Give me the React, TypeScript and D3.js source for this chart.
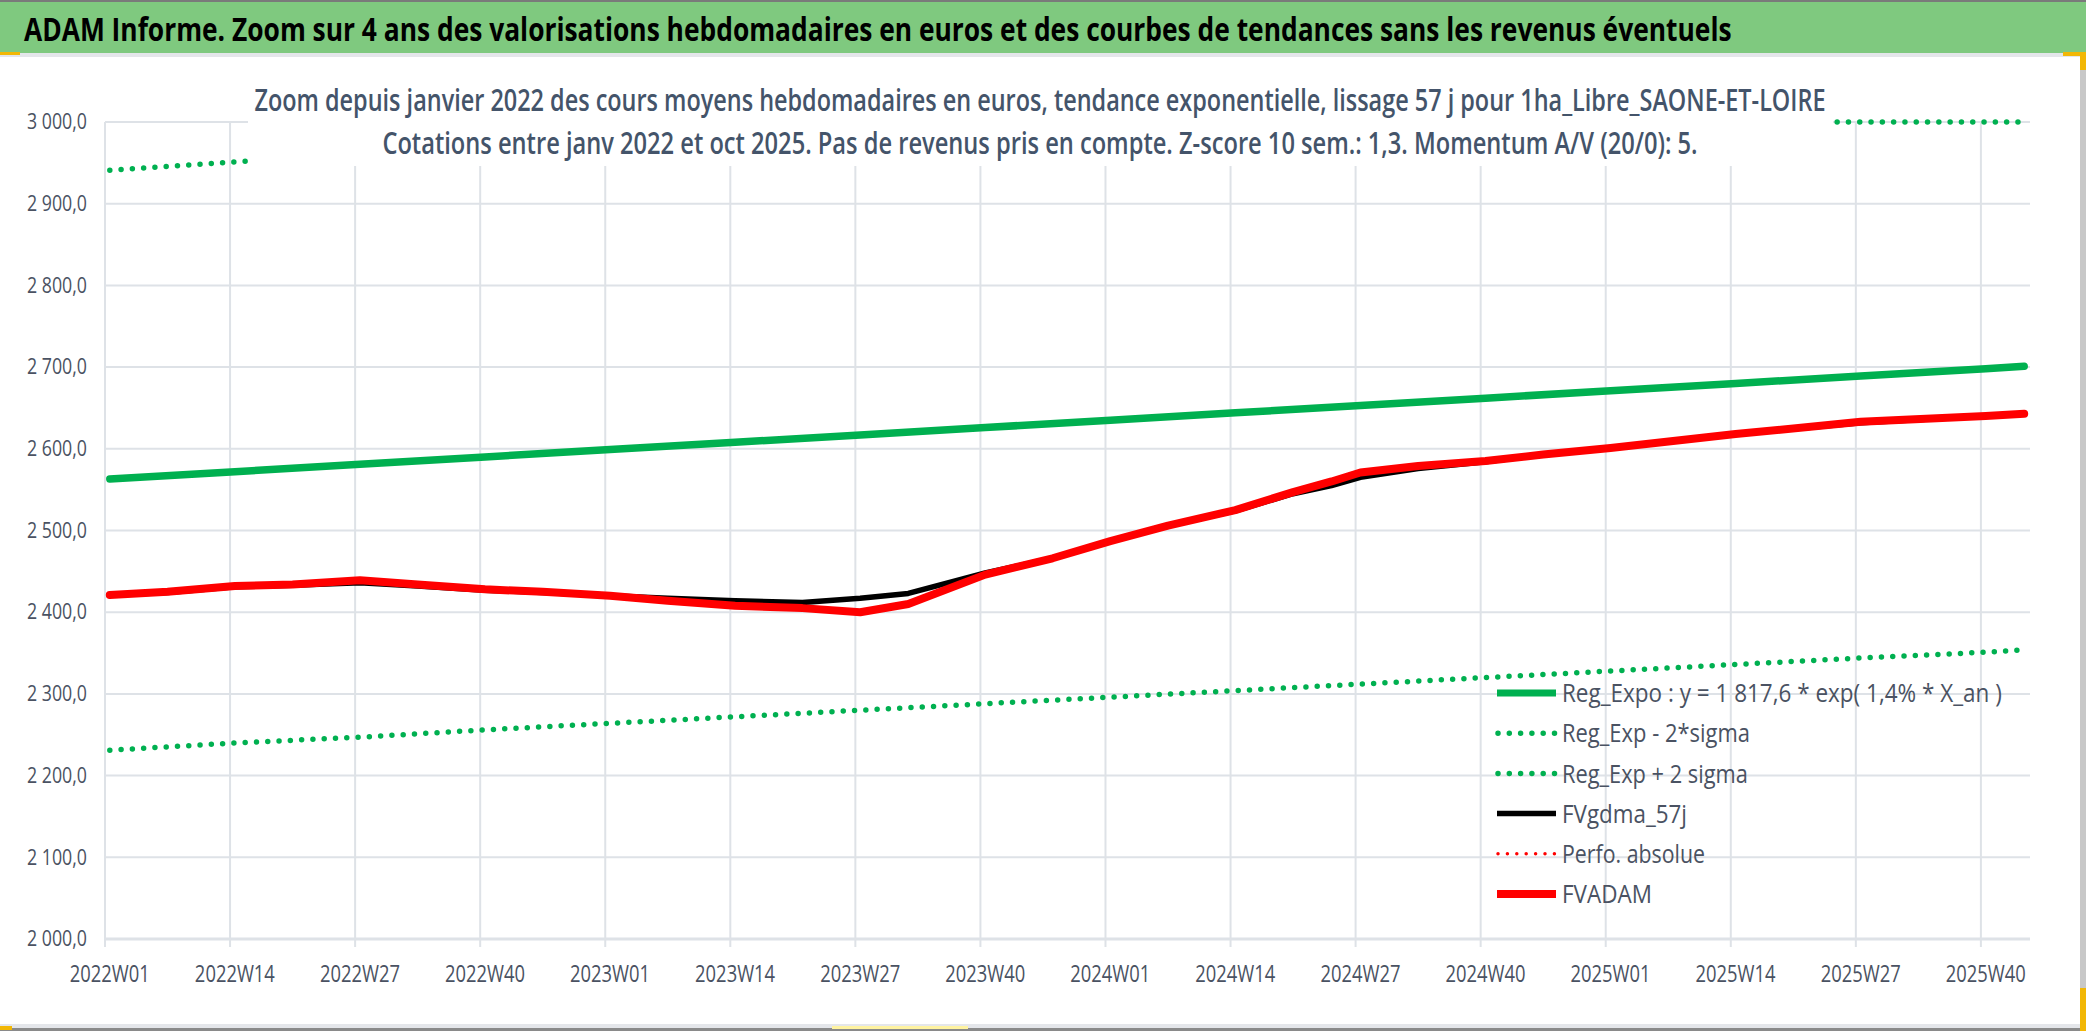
import React, { useRef, useEffect } from 'react';
import * as d3 from 'd3';

// categories: ISO weeks from 2022W01 to 2025W44
const YEARS = [2022, 2023, 2024, 2025];
const WEEKS_PER_YEAR = [52, 52, 52, 44];
const WEEKS = YEARS.flatMap((yr, i) =>
  d3.range(1, WEEKS_PER_YEAR[i] + 1).map((w) => `${yr}W${String(w).padStart(2, '0')}`)
);

const TICK_WEEKS = [
  '2022W01', '2022W14', '2022W27', '2022W40',
  '2023W01', '2023W14', '2023W27', '2023W40',
  '2024W01', '2024W14', '2024W27', '2024W40',
  '2025W01', '2025W14', '2025W27', '2025W40',
];
const Y_TICKS = [2000, 2100, 2200, 2300, 2400, 2500, 2600, 2700, 2800, 2900, 3000];

// trend curves, read at each label week
const REG_WEEKS = [
  '2022W01', '2022W14', '2022W27', '2022W40', '2023W01', '2023W14', '2023W27', '2023W40',
  '2024W01', '2024W14', '2024W27', '2024W40', '2025W01', '2025W14', '2025W27', '2025W40', '2025W44',
];
const REG_EXPO = [2563, 2572, 2581, 2590, 2599, 2608, 2617, 2626, 2635, 2644, 2653, 2662, 2671, 2680, 2689, 2698, 2701];
const SIGMA_LOW = [2231, 2240, 2247, 2256, 2264, 2272, 2280, 2288, 2296, 2304, 2312, 2320, 2328, 2336, 2344, 2351, 2354];
const SIGMA_HIGH = [2941, 2951, 2961, 2971, 2982, 2992, 3002, 3012, 3023, 3033, 3044, 3054, 3065, 3075, 3086, 3097, 3100];

// valuations
const FV_WEEKS = [
  '2022W01', '2022W07', '2022W14', '2022W20', '2022W27', '2022W33', '2022W40', '2022W46',
  '2023W01', '2023W07', '2023W14', '2023W21', '2023W27', '2023W32', '2023W40', '2023W47',
  '2024W01', '2024W07', '2024W14', '2024W20', '2024W24', '2024W27', '2024W33', '2024W40', '2024W46',
  '2025W01', '2025W14', '2025W27', '2025W40', '2025W44',
];
const FVADAM = [
  2421, 2425, 2432, 2434, 2439, 2434, 2428, 2425,
  2420, 2414, 2408, 2405, 2400, 2410, 2446, 2466,
  2487, 2506, 2525, 2547, 2560, 2571, 2579, 2585, 2593,
  2601, 2618, 2633, 2640, 2643,
];
const FVGDMA_57J = [
  2421, 2424, 2431, 2433, 2436, 2432, 2427, 2424,
  2420, 2417, 2414, 2412, 2417, 2423, 2448, 2466,
  2487, 2506, 2524, 2545, 2555, 2565, 2576, 2584, 2593,
  2601, 2618, 2632, 2640, 2643,
];
const PERFO_ABSOLUE: number[] = [];

const LEGEND = [
  { label: 'Reg_Expo : y = 1 817,6 * exp( 1,4% *  X_an )', color: '#00B050', width: 7, dotted: false, w: 440 },
  { label: 'Reg_Exp - 2*sigma', color: '#00B050', width: 5.5, dotted: true, w: 188 },
  { label: 'Reg_Exp + 2 sigma', color: '#00B050', width: 5.5, dotted: true, w: 186 },
  { label: 'FVgdma_57j', color: '#000000', width: 5.5, dotted: false, w: 125 },
  { label: 'Perfo. absolue', color: '#FF0000', width: 3.5, dotted: true, w: 143 },
  { label: 'FVADAM', color: '#FF0000', width: 8, dotted: false, w: 90 },
];

const TITLE = 'ADAM Informe. Zoom sur 4 ans des valorisations hebdomadaires en euros et des courbes de tendances sans les revenus éventuels';
const SUB1 = 'Zoom depuis janvier 2022 des cours moyens hebdomadaires en euros, tendance exponentielle, lissage 57 j pour 1ha_Libre_SAONE-ET-LOIRE';
const SUB2 = 'Cotations entre janv 2022 et oct 2025. Pas de revenus pris en compte. Z-score 10 sem.: 1,3. Momentum A/V (20/0): 5.';

const W = 2086;
const H = 1031;
const FONT = '"Open Sans", "Noto Sans", sans-serif';

// texte condensé horizontalement (police étroite du tableur)
function squeeze(
  sel: d3.Selection<SVGTextElement, unknown, null, undefined>,
  x0: number,
  y0: number,
  target: number,
  anchor: 'start' | 'middle' | 'end' = 'start'
) {
  sel.attr('x', 0).attr('y', 0).attr('text-anchor', anchor);
  const n = sel.node()!.getComputedTextLength() || target;
  sel.attr('transform', `translate(${x0},${y0}) scale(${target / n},1)`);
}

const App: React.FC = () => {
  const svgRef = useRef<SVGSVGElement | null>(null);

  useEffect(() => {
    if (!svgRef.current) return;
    document.body.style.margin = '0';
    const svg = d3.select(svgRef.current);
    svg.selectAll('*').remove();

    const plot = { left: 105, right: 2029, top: 122, bottom: 939 };

    // cadre
    svg.append('rect').attr('width', W).attr('height', H).attr('fill', '#ffffff');
    svg.append('rect').attr('x', 0).attr('y', 0).attr('width', W).attr('height', 53).attr('fill', '#7FC97F');
    svg.append('rect').attr('x', 0).attr('y', 0).attr('width', W).attr('height', 2).attr('fill', '#7a7a7a');
    svg.append('rect').attr('x', 0).attr('y', 53).attr('width', W).attr('height', 4).attr('fill', '#E4E6EA');
    svg.append('rect').attr('x', 2080).attr('y', 53).attr('width', 6).attr('height', H - 53).attr('fill', '#C8C8C8');
    svg.append('rect').attr('x', 0).attr('y', 1024).attr('width', W).attr('height', 4).attr('fill', '#E4E6EA');
    svg.append('rect').attr('x', 0).attr('y', 1028).attr('width', W).attr('height', 3).attr('fill', '#8a8a8a');
    const handles: [number, number, number, number, string][] = [
      [0, 52, 20, 3, '#F2B705'],
      [2063, 52, 23, 4, '#F2B705'],
      [2080, 52, 6, 18, '#F2B705'],
      [2080, 988, 6, 43, '#F2B705'],
      [0, 1026, 12, 4, '#F2B705'],
      [832, 1026, 136, 3, '#FFF3A0'],
    ];
    handles.forEach(([hx, hy, hw, hh, c]) =>
      svg.append('rect').attr('x', hx).attr('y', hy).attr('width', hw).attr('height', hh).attr('fill', c)
    );

    const title = svg
      .append('text')
      .attr('font-family', FONT)
      .attr('font-weight', 700)
      .attr('font-size', 32)
      .attr('fill', '#000')
      .text(TITLE);
    squeeze(title, 24, 41, 1708);

    // échelles
    const x = d3.scaleBand<string>().domain(WEEKS).range([plot.left, plot.right]).padding(0);
    const bw = x.bandwidth();
    const y = d3.scaleLinear().domain([2000, 3000]).range([plot.bottom, plot.top]).clamp(true);
    const fr = d3.formatLocale({ decimal: ',', thousands: ' ', grouping: [3], currency: ['', ' €'] });
    const fmt = fr.format(',.1f');

    // grille
    const grid = svg.append('g');
    grid
      .selectAll('.hgrid')
      .data(Y_TICKS)
      .enter()
      .append('line')
      .attr('x1', plot.left)
      .attr('x2', plot.right + 1)
      .attr('y1', (d) => y(d))
      .attr('y2', (d) => y(d))
      .attr('stroke', '#DEE2E7')
      .attr('stroke-width', (d) => (d === 2000 ? 3 : 2));
    grid
      .selectAll('.vgrid')
      .data(TICK_WEEKS)
      .enter()
      .append('line')
      .attr('x1', (d) => x(d)!)
      .attr('x2', (d) => x(d)!)
      .attr('y1', plot.top)
      .attr('y2', plot.bottom + 8)
      .attr('stroke', '#DEE2E7')
      .attr('stroke-width', 2);

    // axes
    const yAxisG = svg
      .append('g')
      .attr('transform', `translate(${plot.left},0)`)
      .call(d3.axisLeft(y).tickValues(Y_TICKS).tickFormat((d) => fmt(d as number)).tickSize(0).tickPadding(18));
    yAxisG.select('.domain').remove();
    yAxisG
      .selectAll<SVGTextElement, number>('text')
      .attr('font-family', FONT)
      .attr('font-size', 21)
      .attr('fill', '#4A5262')
      .attr('textLength', 60)
      .attr('lengthAdjust', 'spacingAndGlyphs');

    const xAxisG = svg
      .append('g')
      .attr('transform', `translate(0,${plot.bottom})`)
      .call(d3.axisBottom(x).tickValues(TICK_WEEKS).tickSize(0).tickPadding(26));
    xAxisG.select('.domain').remove();
    xAxisG
      .selectAll('text')
      .attr('font-family', FONT)
      .attr('font-size', 24)
      .attr('fill', '#4A5262')
      .attr('textLength', 80)
      .attr('lengthAdjust', 'spacingAndGlyphs');

    // séries
    const line = d3
      .line<[string, number]>()
      .x((d) => x(d[0])! + bw / 2)
      .y((d) => y(d[1]));
    const zip = (ws: string[], vs: number[]): [string, number][] => vs.map((v, i) => [ws[i], v]);

    const series = [
      { pts: zip(REG_WEEKS, REG_EXPO), color: '#00B050', width: 7.5, dotted: false },
      { pts: zip(REG_WEEKS, SIGMA_LOW), color: '#00B050', width: 5.5, dotted: true },
      { pts: zip(REG_WEEKS, SIGMA_HIGH), color: '#00B050', width: 5.5, dotted: true },
      { pts: zip(FV_WEEKS, FVGDMA_57J), color: '#000000', width: 5.5, dotted: false },
      { pts: zip(FV_WEEKS, PERFO_ABSOLUE), color: '#FF0000', width: 3.5, dotted: true },
      { pts: zip(FV_WEEKS, FVADAM), color: '#FF0000', width: 8, dotted: false },
    ];
    const sg = svg.append('g');
    series
      .filter((s) => s.pts.length > 0)
      .forEach((s) => {
        sg.append('path')
          .attr('d', line(s.pts)!)
          .attr('fill', 'none')
          .attr('stroke', s.color)
          .attr('stroke-width', s.width)
          .attr('stroke-linecap', 'round')
          .attr('stroke-linejoin', 'round')
          .attr('stroke-dasharray', s.dotted ? '0 11.3' : null);
      });

    // titre du graphique (fond blanc)
    svg.append('rect').attr('x', 248).attr('y', 58).attr('width', 1585).attr('height', 108).attr('fill', '#ffffff');
    [
      { t: SUB1, yb: 111, w: 1572 },
      { t: SUB2, yb: 154, w: 1316 },
    ].forEach((s) => {
      const t = svg
        .append('text')
        .attr('font-family', FONT)
        .attr('font-weight', 600)
        .attr('font-size', 30)
        .attr('fill', '#44546A')
        .text(s.t);
      squeeze(t, 1040, s.yb, s.w, 'middle');
    });

    // légende
    const lg = svg.append('g');
    LEGEND.forEach((d, i) => {
      const ly = 693 + i * 40.2;
      lg.append('line')
        .attr('x1', d.dotted ? 1498 : 1497)
        .attr('x2', d.dotted ? 1555 : 1556)
        .attr('y1', ly)
        .attr('y2', ly)
        .attr('stroke', d.color)
        .attr('stroke-width', d.width)
        .attr('stroke-linecap', d.dotted ? 'round' : 'butt')
        .attr('stroke-dasharray', d.dotted ? (d.width < 4 ? '0 9.4' : '0 11.3') : null);
      const t = lg
        .append('text')
        .attr('dy', '0.35em')
        .attr('font-family', FONT)
        .attr('font-size', 26)
        .attr('fill', '#4A5262')
        .text(d.label);
      squeeze(t, 1562, ly, d.w);
    });
  }, []);

  return (
    <svg
      ref={svgRef}
      width={W}
      height={H}
      style={{ position: 'absolute', left: 0, top: 0, display: 'block' }}
    />
  );
};

export default App;
